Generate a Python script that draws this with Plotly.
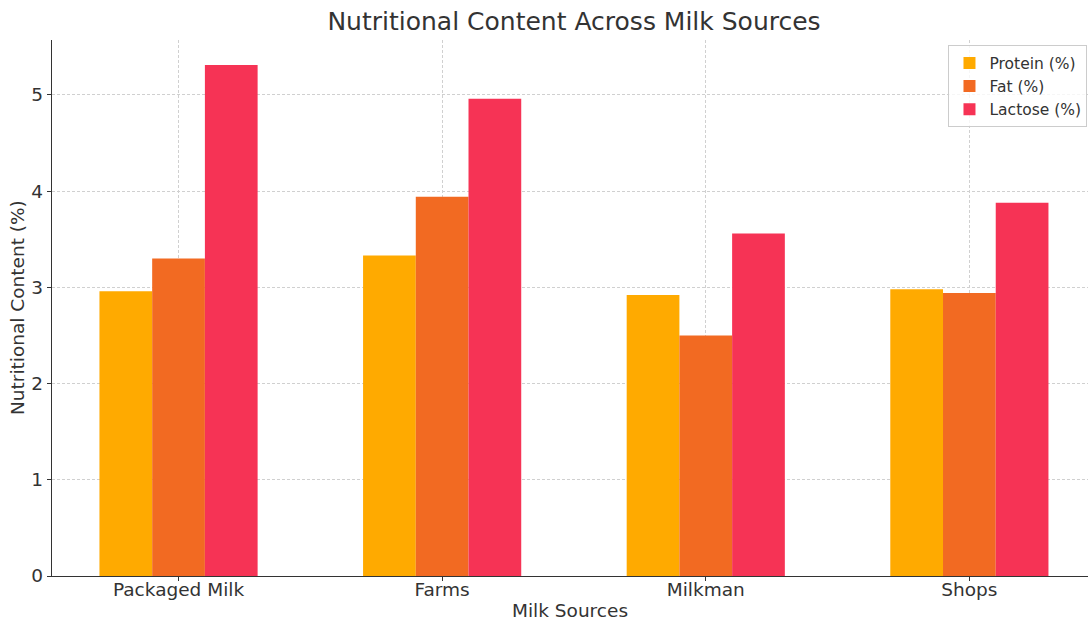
import plotly.graph_objects as go

categories = ["Packaged Milk", "Farms", "Milkman", "Shops"]
protein = [2.96, 3.33, 2.92, 2.98]
fat = [3.30, 3.94, 2.50, 2.94]
lactose = [5.31, 4.96, 3.56, 3.88]
series_names = ["Protein (%)", "Fat (%)", "Lactose (%)"]
colors = ["#FFAA00", "#F26A22", "#F63355"]

fig = go.Figure()
for name, vals, c in zip(series_names, [protein, fat, lactose], colors):
    fig.add_trace(go.Bar(x=categories, y=vals, name=name, marker=dict(color=c, line=dict(width=0))))

axis_font = dict(family="DejaVu Sans", size=18.5, color="#333333")
fig.update_layout(
    width=1089, height=620,
    margin=dict(l=52, r=1, t=40, b=44, autoexpand=False),
    paper_bgcolor="white", plot_bgcolor="white",
    barmode="group", bargap=0.4, bargroupgap=0,
    font=dict(family="DejaVu Sans", color="#333333"),
    title=dict(text="Nutritional Content Across Milk Sources", x=574 / 1089, xanchor="center",
               xref="container", y=1 - 21 / 620, yanchor="middle",
               font=dict(family="DejaVu Sans", size=25, color="#333333")),
    legend=dict(x=0.9995, y=0.99, xanchor="right", yanchor="top",
                bgcolor="rgba(255,255,255,0.8)", bordercolor="#cccccc", borderwidth=1,
                font=dict(family="DejaVu Sans", size=15.5, color="#333333"),
                itemwidth=30, tracegroupgap=0),
    showlegend=True,
    annotations=[
        dict(text="Milk Sources", xref="paper", yref="paper", x=0.5, y=-34 / 536,
             xanchor="center", yanchor="middle", showarrow=False, font=axis_font),
        dict(text="Nutritional Content (%)", xref="paper", yref="paper", x=-35 / 1036, y=0.5,
             xanchor="center", yanchor="middle", textangle=-90, showarrow=False, font=axis_font),
    ],
)
fig.update_xaxes(
    range=[-0.48, 3.45], showline=True, linecolor="#333333", linewidth=1.3,
    ticks="outside", ticklen=4, tickcolor="#333333",
    showgrid=True, gridcolor="#d0d0d0", griddash="3px,2px", gridwidth=1,
    tickfont=axis_font, layer="above traces", automargin=False,
    ticklabelstandoff=-7,
    mirror=False,
)
fig.update_yaxes(
    range=[0, 5.57], showline=True, linecolor="#333333", linewidth=1.3,
    ticks="outside", ticklen=4, tickcolor="#333333", dtick=1,
    showgrid=True, gridcolor="#d0d0d0", griddash="3px,2px", gridwidth=1,
    zeroline=False, automargin=False,
    tickfont=axis_font, layer="above traces",
)
fig.write_html("out.html")
